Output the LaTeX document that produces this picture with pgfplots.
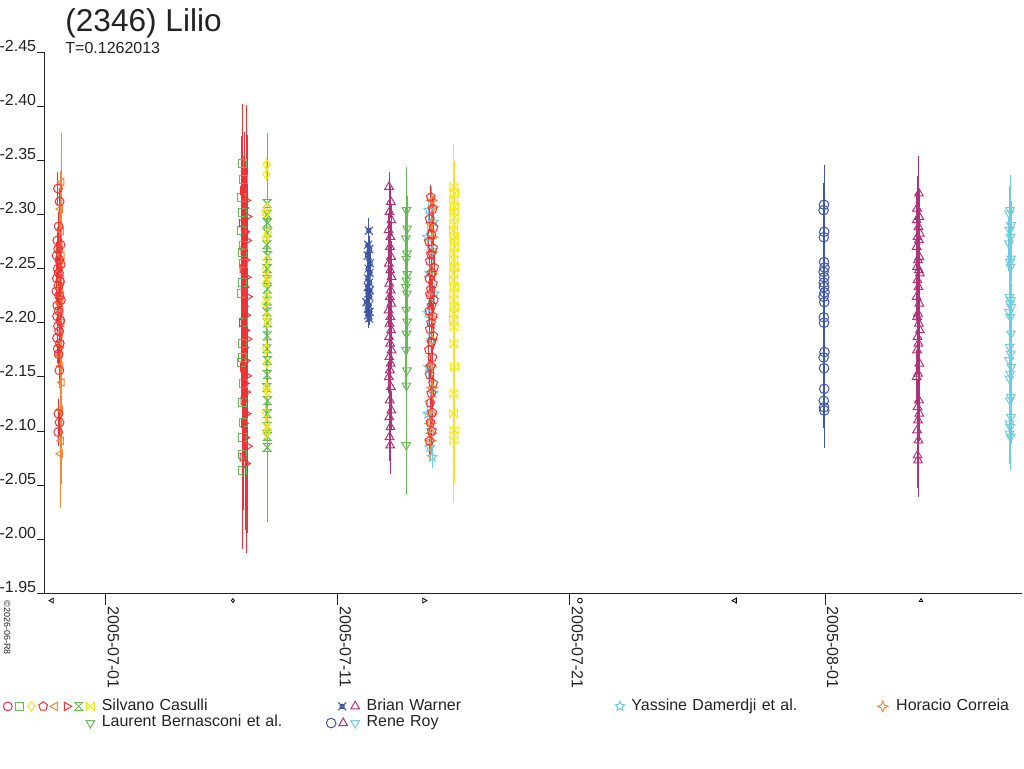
\documentclass[border=0pt]{standalone}
\usepackage{pgfplots}
\pgfplotsset{compat=1.18}
\usetikzlibrary{plotmarks}
\usepackage{fontspec}
\setmainfont{Liberation Sans}
\definecolor{cred}{RGB}{236,51,56}
\definecolor{cgreen}{RGB}{102,187,85}
\definecolor{cyellow}{RGB}{245,232,20}
\definecolor{corange}{RGB}{245,135,55}
\definecolor{cblue}{RGB}{62,86,165}
\definecolor{cmagenta}{RGB}{176,50,125}
\definecolor{ccyan}{RGB}{110,205,222}
\definecolor{cgray}{RGB}{34,34,34}
\pgfdeclareplotmark{hourglass}{%
 \pgfpathmoveto{\pgfqpoint{-\pgfplotmarksize}{\pgfplotmarksize}}%
 \pgfpathlineto{\pgfqpoint{\pgfplotmarksize}{\pgfplotmarksize}}%
 \pgfpathlineto{\pgfqpoint{-\pgfplotmarksize}{-\pgfplotmarksize}}%
 \pgfpathlineto{\pgfqpoint{\pgfplotmarksize}{-\pgfplotmarksize}}%
 \pgfpathclose\pgfusepathqstroke}
\pgfdeclareplotmark{bowtie}{%
 \pgfpathmoveto{\pgfqpoint{-\pgfplotmarksize}{\pgfplotmarksize}}%
 \pgfpathlineto{\pgfqpoint{-\pgfplotmarksize}{-\pgfplotmarksize}}%
 \pgfpathlineto{\pgfqpoint{\pgfplotmarksize}{\pgfplotmarksize}}%
 \pgfpathlineto{\pgfqpoint{\pgfplotmarksize}{-\pgfplotmarksize}}%
 \pgfpathclose\pgfusepathqstroke}
\pgfdeclareplotmark{star4}{%
 \pgfpathmoveto{\pgfqpoint{0pt}{\pgfplotmarksize}}%
 \pgfpathlineto{\pgfqpoint{0.3\pgfplotmarksize}{0.3\pgfplotmarksize}}%
 \pgfpathlineto{\pgfqpoint{\pgfplotmarksize}{0pt}}%
 \pgfpathlineto{\pgfqpoint{0.3\pgfplotmarksize}{-0.3\pgfplotmarksize}}%
 \pgfpathlineto{\pgfqpoint{0pt}{-\pgfplotmarksize}}%
 \pgfpathlineto{\pgfqpoint{-0.3\pgfplotmarksize}{-0.3\pgfplotmarksize}}%
 \pgfpathlineto{\pgfqpoint{-\pgfplotmarksize}{0pt}}%
 \pgfpathlineto{\pgfqpoint{-0.3\pgfplotmarksize}{0.3\pgfplotmarksize}}%
 \pgfpathclose\pgfusepathqstroke}
\pgfdeclareplotmark{ostar}{%
 \pgfpathmoveto{\pgfpointpolar{90}{\pgfplotmarksize}}%
 \pgfpathlineto{\pgfpointpolar{126}{0.45\pgfplotmarksize}}%
 \pgfpathlineto{\pgfpointpolar{162}{\pgfplotmarksize}}%
 \pgfpathlineto{\pgfpointpolar{198}{0.45\pgfplotmarksize}}%
 \pgfpathlineto{\pgfpointpolar{234}{\pgfplotmarksize}}%
 \pgfpathlineto{\pgfpointpolar{270}{0.45\pgfplotmarksize}}%
 \pgfpathlineto{\pgfpointpolar{306}{\pgfplotmarksize}}%
 \pgfpathlineto{\pgfpointpolar{342}{0.45\pgfplotmarksize}}%
 \pgfpathlineto{\pgfpointpolar{18}{\pgfplotmarksize}}%
 \pgfpathlineto{\pgfpointpolar{54}{0.45\pgfplotmarksize}}%
 \pgfpathclose\pgfusepathqstroke}
\pgfdeclareplotmark{quadx}{%
 \pgfpathrectangle{\pgfqpoint{-0.5\pgfplotmarksize}{-0.5\pgfplotmarksize}}{\pgfqpoint{\pgfplotmarksize}{\pgfplotmarksize}}%
 \pgfpathmoveto{\pgfqpoint{-\pgfplotmarksize}{-\pgfplotmarksize}}%
 \pgfpathlineto{\pgfqpoint{\pgfplotmarksize}{\pgfplotmarksize}}%
 \pgfpathmoveto{\pgfqpoint{-\pgfplotmarksize}{\pgfplotmarksize}}%
 \pgfpathlineto{\pgfqpoint{\pgfplotmarksize}{-\pgfplotmarksize}}%
 \pgfusepathqstroke}
\pgfplotsset{eb/.style={only marks, mark size=2.2pt, line width=0.5pt,
  error bars/y dir=both, error bars/y explicit, error bars/error mark=none,
  error bars/error bar style={line width=0.5pt}, forget plot}}
\begin{document}
\begin{tikzpicture}
\path[use as bounding box] (0,0) rectangle (512pt,384pt);
\begin{axis}[
  at={(22.5pt,87.25pt)}, anchor=south west,
  scale only axis, width=488.5pt, height=270.75pt,
  xmin=-2.629, xmax=39.483, ymin=-2.45, ymax=-1.95, y dir=reverse,
  axis x line*=bottom, axis y line*=left,
  axis line style={line width=0.5pt, draw=cgray, -},
  tick align=outside,
  xtick style={line width=0.5pt, draw=cgray, /pgfplots/major tick length=5.5pt},
  ytick style={line width=0.5pt, draw=cgray, /pgfplots/major tick length=4pt},
  xtick={0,10,20,31},
  xticklabels={2005-07-01,2005-07-11,2005-07-21,2005-08-01},
  ytick={-2.45,-2.40,-2.35,-2.30,-2.25,-2.20,-2.15,-2.10,-2.05,-2.00,-1.95},
  /pgf/number format/fixed, /pgf/number format/fixed zerofill,
  /pgf/number format/precision=2, /pgf/number format/assume math mode=true,
  ticklabel style={font=\fontsize{8}{9.6}\selectfont, text=cgray},
  yticklabel style={anchor=south east, inner sep=0pt},
  xticklabel style={xshift=1pt, yshift=-2pt, rotate=-90, anchor=base west, inner sep=0pt},
  clip=false,
  legend columns=4,
  legend cell align=left,
  legend style={at={(0.04504,-0.19298)}, anchor=north west, draw=none, fill=none,
    inner sep=0pt, outer sep=0pt, column sep=0pt, row sep=0pt,
    font=\fontsize{8}{9}\selectfont,
    nodes={text width=126pt, inner xsep=0pt, inner ysep=0pt, text height=6pt, text depth=2.35pt, align=left, text=cgray}},
]
% legend entries
\addlegendimage{legend image code/.code={
  \path (0pt,0pt) (6pt,0pt);
  \draw[overlay,cred,line width=0.5pt] plot[only marks, mark=o, mark size=2.2pt] coordinates {(-40.8pt,0pt)};
  \draw[overlay,cgreen,line width=0.5pt] plot[only marks, mark=square, mark size=2pt] coordinates {(-34.9pt,0pt)};
  \draw[overlay,cyellow,line width=0.5pt] plot[only marks, mark=diamond, mark size=2.4pt] coordinates {(-29pt,0pt)};
  \draw[overlay,cred,line width=0.5pt] plot[only marks, mark=pentagon, mark size=2.3pt] coordinates {(-23.1pt,0pt)};
  \draw[overlay,corange,line width=0.5pt] plot[only marks, mark=triangle, mark size=2.4pt, mark options={rotate=90}] coordinates {(-17.2pt,0pt)};
  \draw[overlay,cred,line width=0.5pt] plot[only marks, mark=triangle, mark size=2.4pt, mark options={rotate=-90}] coordinates {(-11.3pt,0pt)};
  \draw[overlay,cgreen,line width=0.5pt] plot[only marks, mark=hourglass, mark size=2pt] coordinates {(-5.4pt,0pt)};
  \draw[overlay,cyellow,line width=0.5pt] plot[only marks, mark=bowtie, mark size=2pt] coordinates {(0.5pt,0pt)};
}}
\addlegendentry{Silvano Casulli}
\addlegendimage{legend image code/.code={
  \path (0pt,0pt) (6pt,0pt);
  \draw[overlay,cblue,line width=0.5pt] plot[only marks, mark=quadx, mark size=2pt] coordinates {(-6pt,0pt)};
  \draw[overlay,cmagenta,line width=0.5pt] plot[only marks, mark=triangle, mark size=2.5pt] coordinates {(0.5pt,0pt)};
}}
\addlegendentry{Brian Warner}
\addlegendimage{legend image code/.code={
  \path (0pt,0pt) (6pt,0pt);
  \draw[overlay,ccyan,line width=0.5pt] plot[only marks, mark=ostar, mark size=2.5pt] coordinates {(0.5pt,0pt)};
}}
\addlegendentry{Yassine Damerdji et al.}
\addlegendimage{legend image code/.code={
  \path (0pt,0pt) (6pt,0pt);
  \draw[overlay,corange,line width=0.5pt] plot[only marks, mark=star4, mark size=2.6pt] coordinates {(-0.5pt,0pt)};
}}
\addlegendentry{Horacio Correia}
\addlegendimage{legend image code/.code={
  \path (0pt,0pt) (6pt,0pt);
  \draw[overlay,cgreen,line width=0.5pt] plot[only marks, mark=triangle, mark size=2.5pt, mark options={rotate=180}] coordinates {(0.5pt,0pt)};
}}
\addlegendentry{Laurent Bernasconi et al.}
\addlegendimage{legend image code/.code={
  \path (0pt,0pt) (6pt,0pt);
  \draw[overlay,cblue,line width=0.5pt] plot[only marks, mark=o, mark size=2.4pt] coordinates {(-11.5pt,0pt)};
  \draw[overlay,cmagenta,line width=0.5pt] plot[only marks, mark=triangle, mark size=2.5pt] coordinates {(-5.5pt,0pt)};
  \draw[overlay,ccyan,line width=0.5pt] plot[only marks, mark=triangle, mark size=2.5pt, mark options={rotate=180}] coordinates {(0.5pt,0pt)};
}}
\addlegendentry{Rene Roy}

% ---- Cluster 1: Silvano orange (triangle left)
\addplot[eb, color=corange, mark=triangle, mark options={rotate=90}] table[x=x,y=y,y error=e] {
x y e
-1.91 -2.330 0.045
-1.97 -2.305 0.035
-1.93 -2.285 0.030
-1.99 -2.270 0.030
-1.90 -2.262 0.035
-1.95 -2.255 0.028
-2.00 -2.248 0.030
-1.92 -2.240 0.032
-1.97 -2.232 0.030
-1.93 -2.225 0.035
-1.98 -2.218 0.030
-1.95 -2.210 0.033
-1.91 -2.200 0.030
-1.97 -2.190 0.032
-1.93 -2.180 0.035
-2.00 -2.170 0.030
-1.95 -2.160 0.033
-1.90 -2.145 0.040
-1.96 -2.120 0.050
-1.93 -2.091 0.040
-1.97 -2.079 0.050
};
% ---- Cluster 1: Silvano red circles
\addplot[eb, color=cred, mark=o] table[x=x,y=y,y error=e] {
x y e
-2.07 -2.324 0.015
-2.00 -2.312 0.012
-2.04 -2.289 0.013
-2.10 -2.276 0.012
-1.96 -2.272 0.014
-2.06 -2.268 0.012
-2.13 -2.262 0.013
-2.01 -2.258 0.012
-1.95 -2.254 0.015
-2.08 -2.250 0.012
-2.03 -2.246 0.013
-2.12 -2.241 0.012
-1.98 -2.238 0.014
-2.05 -2.234 0.012
-2.14 -2.229 0.013
-2.02 -2.225 0.012
-1.94 -2.221 0.013
-2.10 -2.216 0.012
-2.04 -2.211 0.014
-2.11 -2.206 0.013
-1.97 -2.202 0.012
-2.07 -2.197 0.013
-2.02 -2.192 0.012
-2.11 -2.186 0.014
-1.99 -2.181 0.012
-2.08 -2.176 0.013
-2.04 -2.171 0.012
-2.01 -2.156 0.013
-2.05 -2.116 0.014
-2.00 -2.108 0.012
-2.06 -2.099 0.013
};
% ---- Cluster 2: Silvano green squares
\addplot[eb, color=cgreen, mark=square, mark size=2pt] table[x=x,y=y,y error=e] {
x y e
5.88 -2.347 0.020
5.92 -2.332 0.022
5.86 -2.316 0.020
5.90 -2.302 0.025
5.85 -2.285 0.020
5.91 -2.271 0.022
5.87 -2.265 0.020
5.93 -2.255 0.022
5.89 -2.237 0.020
5.86 -2.227 0.024
5.92 -2.200 0.020
5.88 -2.181 0.022
5.90 -2.168 0.020
5.85 -2.163 0.022
5.91 -2.144 0.020
5.87 -2.126 0.024
5.93 -2.108 0.020
5.89 -2.094 0.022
5.90 -2.078 0.020
5.88 -2.064 0.022
};
% ---- Cluster 2: Silvano red (triangle right)
\addplot[eb, color=cred, mark=triangle, mark options={rotate=-90}] table[x=x,y=y,y error=e] {
x y e
5.90 -2.322 0.080
6.04 -2.313 0.088
5.96 -2.306 0.070
6.10 -2.298 0.075
5.84 -2.292 0.080
6.00 -2.284 0.065
6.08 -2.276 0.070
5.92 -2.267 0.075
6.02 -2.258 0.070
5.88 -2.250 0.065
6.06 -2.242 0.072
5.98 -2.233 0.068
6.12 -2.224 0.070
5.94 -2.215 0.075
6.04 -2.207 0.068
5.86 -2.200 0.070
6.00 -2.193 0.072
6.10 -2.185 0.068
5.96 -2.177 0.070
6.02 -2.165 0.075
5.90 -2.159 0.080
6.08 -2.151 0.070
5.98 -2.144 0.072
6.04 -2.136 0.075
5.92 -2.128 0.080
6.06 -2.116 0.078
5.94 -2.107 0.080
6.00 -2.094 0.085
6.12 -2.086 0.080
5.88 -2.076 0.085
6.04 -2.070 0.083
};
% ---- Cluster 2b: Silvano green hourglass
\addplot[eb, color=cgreen, mark=hourglass, mark size=2pt] table[x=x,y=y,y error=e] {
x y e
6.95 -2.310 0.065
6.94 -2.300 0.030
6.96 -2.292 0.025
6.95 -2.283 0.030
6.93 -2.272 0.025
6.96 -2.262 0.030
6.95 -2.250 0.025
6.94 -2.240 0.030
6.96 -2.231 0.025
6.95 -2.220 0.030
6.93 -2.210 0.028
6.96 -2.200 0.025
6.95 -2.188 0.030
6.94 -2.176 0.025
6.96 -2.165 0.030
6.95 -2.152 0.025
6.93 -2.140 0.030
6.96 -2.128 0.025
6.95 -2.116 0.030
6.94 -2.104 0.028
6.96 -2.095 0.060
6.95 -2.085 0.069
};
% ---- Cluster 2b: Silvano yellow diamonds
\addplot[eb, color=cyellow, mark=diamond, mark size=2.4pt] table[x=x,y=y,y error=e] {
x y e
6.93 -2.346 0.006
6.92 -2.337 0.006
6.95 -2.306 0.008
6.88 -2.301 0.006
6.97 -2.283 0.008
6.90 -2.278 0.006
6.94 -2.258 0.007
6.89 -2.249 0.006
6.98 -2.242 0.007
6.91 -2.237 0.006
6.95 -2.224 0.007
6.88 -2.218 0.006
6.93 -2.205 0.007
6.97 -2.200 0.006
6.90 -2.176 0.007
6.94 -2.163 0.006
6.92 -2.140 0.007
6.96 -2.136 0.006
6.89 -2.117 0.007
6.93 -2.107 0.006
6.97 -2.101 0.007
6.91 -2.098 0.006
};
% ---- Cluster 3: Brian Warner blue
\addplot[eb, color=cblue, mark=quadx, mark size=2pt] table[x=x,y=y,y error=e] {
x y e
11.33 -2.285 0.012
11.30 -2.272 0.010
11.35 -2.268 0.012
11.28 -2.262 0.011
11.38 -2.255 0.010
11.32 -2.250 0.012
11.36 -2.246 0.011
11.30 -2.241 0.010
11.34 -2.237 0.012
11.29 -2.233 0.011
11.37 -2.230 0.010
11.31 -2.227 0.012
11.35 -2.224 0.011
11.22 -2.219 0.012
11.33 -2.216 0.010
11.29 -2.213 0.012
11.36 -2.210 0.011
11.31 -2.207 0.012
11.34 -2.204 0.006
};
% ---- Cluster 4: Brian Warner magenta triangles
\addplot[eb, color=cmagenta, mark=triangle, mark size=2.5pt] table[x=x,y=y,y error=e] {
x y e
12.20 -2.3255 0.014
12.28 -2.3116 0.015
12.22 -2.3024 0.016
12.30 -2.2947 0.015
12.18 -2.2855 0.016
12.26 -2.2793 0.015
12.24 -2.2701 0.016
12.29 -2.2608 0.015
12.19 -2.2547 0.016
12.25 -2.2485 0.015
12.31 -2.2423 0.016
12.21 -2.2362 0.015
12.27 -2.2300 0.016
12.23 -2.2238 0.015
12.30 -2.2177 0.016
12.18 -2.2115 0.015
12.26 -2.2054 0.016
12.22 -2.1993 0.015
12.29 -2.1931 0.016
12.20 -2.1869 0.015
12.25 -2.1808 0.016
12.31 -2.1746 0.015
12.21 -2.1684 0.016
12.27 -2.1623 0.015
12.24 -2.1561 0.016
12.19 -2.1499 0.015
12.28 -2.1407 0.018
12.23 -2.1284 0.018
12.30 -2.1191 0.018
12.21 -2.1129 0.020
12.26 -2.1037 0.020
12.22 -2.0945 0.022
12.25 -2.0868 0.026
};
% ---- Cluster 5: Laurent Bernasconi green triangles down
\addplot[eb, color=cgreen, mark=triangle, mark size=2.5pt, mark options={rotate=180}] table[x=x,y=y,y error=e] {
x y e
12.95 -2.304 0.040
12.98 -2.287 0.030
12.93 -2.278 0.028
12.97 -2.264 0.030
12.94 -2.259 0.028
12.99 -2.245 0.030
12.95 -2.239 0.028
12.92 -2.233 0.030
12.97 -2.227 0.028
12.94 -2.212 0.030
12.98 -2.201 0.030
12.95 -2.190 0.032
12.93 -2.175 0.035
12.97 -2.156 0.040
12.95 -2.142 0.040
12.94 -2.087 0.045
};
% ---- Cluster 6: Yassine Damerdji cyan stars
\addplot[eb, color=ccyan, mark=ostar, mark size=2.5pt] table[x=x,y=y,y error=e] {
x y e
13.92 -2.304 0.010
14.12 -2.293 0.010
13.85 -2.279 0.012
14.08 -2.267 0.010
13.95 -2.246 0.012
14.15 -2.227 0.010
13.88 -2.209 0.012
14.05 -2.184 0.010
13.90 -2.159 0.012
14.10 -2.135 0.010
13.87 -2.116 0.012
14.02 -2.101 0.012
13.96 -2.085 0.012
14.06 -2.076 0.010
};
% ---- Cluster 6: Horacio Correia orange
\addplot[eb, color=corange, mark=star4, mark size=2.6pt] table[x=x,y=y,y error=e] {
x y e
14.05 -2.313 0.012
14.10 -2.307 0.010
14.02 -2.292 0.012
14.08 -2.279 0.010
14.04 -2.265 0.012
14.06 -2.245 0.010
14.03 -2.225 0.012
14.07 -2.205 0.012
14.05 -2.184 0.012
14.02 -2.160 0.012
14.06 -2.140 0.012
14.04 -2.116 0.012
13.98 -2.107 0.015
14.03 -2.098 0.020
14.00 -2.091 0.018
};
% ---- Cluster 6: Silvano red pentagons
\addplot[eb, color=cred, mark=pentagon, mark size=2.3pt] table[x=x,y=y,y error=e] {
x y e
14.00 -2.316 0.011
14.08 -2.305 0.012
13.95 -2.296 0.011
14.12 -2.288 0.012
14.03 -2.281 0.011
13.92 -2.275 0.012
14.10 -2.269 0.011
14.01 -2.263 0.012
13.96 -2.257 0.011
14.14 -2.251 0.012
14.05 -2.246 0.011
13.93 -2.241 0.012
14.09 -2.236 0.011
14.00 -2.231 0.012
13.97 -2.226 0.011
14.13 -2.221 0.012
14.04 -2.216 0.011
13.94 -2.211 0.012
14.08 -2.206 0.011
14.01 -2.200 0.012
13.96 -2.194 0.011
14.11 -2.188 0.012
14.03 -2.182 0.011
13.92 -2.175 0.012
14.07 -2.168 0.011
14.00 -2.160 0.012
13.95 -2.152 0.011
14.10 -2.144 0.012
14.02 -2.135 0.011
13.97 -2.126 0.012
14.06 -2.117 0.011
13.99 -2.108 0.012
14.04 -2.100 0.011
13.94 -2.091 0.012
};
% ---- Cluster 7: Silvano yellow bowties
\addplot[eb, color=cyellow, mark=bowtie, mark size=2pt] table[x=x,y=y,y error=e] {
x y e
15.00 -2.3255 0.040
15.03 -2.3194 0.030
14.98 -2.3132 0.028
15.02 -2.3070 0.030
14.99 -2.3024 0.028
15.04 -2.2978 0.030
15.00 -2.2901 0.028
14.97 -2.2855 0.030
15.02 -2.2793 0.028
14.99 -2.2763 0.030
15.03 -2.2701 0.028
15.00 -2.2640 0.030
14.98 -2.2578 0.028
15.02 -2.2516 0.030
15.00 -2.2455 0.028
14.97 -2.2393 0.030
15.03 -2.2331 0.028
15.00 -2.2270 0.030
14.99 -2.2208 0.028
15.02 -2.2146 0.030
15.00 -2.2085 0.028
14.98 -2.2023 0.030
15.01 -2.1962 0.030
14.99 -2.1808 0.035
15.02 -2.1592 0.040
15.00 -2.1346 0.045
14.98 -2.1161 0.050
15.01 -2.1007 0.050
15.00 -2.0915 0.057
};
% ---- Cluster 8: Rene Roy blue circles
\addplot[eb, color=cblue, mark=o, mark size=2.4pt] table[x=x,y=y,y error=e] {
x y e
30.95 -2.309 0.037
30.93 -2.304 0.025
30.96 -2.284 0.025
30.94 -2.279 0.022
30.95 -2.256 0.022
30.97 -2.251 0.020
30.93 -2.247 0.022
30.96 -2.242 0.020
30.94 -2.237 0.022
30.95 -2.233 0.020
30.97 -2.228 0.022
30.93 -2.224 0.020
30.96 -2.219 0.022
30.94 -2.205 0.022
30.95 -2.200 0.024
30.97 -2.173 0.025
30.93 -2.168 0.024
30.95 -2.158 0.025
30.96 -2.139 0.025
30.94 -2.128 0.025
30.95 -2.122 0.028
30.96 -2.119 0.035
};
% ---- Cluster 9: Rene Roy magenta
\addplot[eb, color=cmagenta, mark=triangle, mark size=2.5pt] table[x=x,y=y,y error=e] {
x y e
35.04 -2.3194 0.035
34.96 -2.3055 0.030
35.06 -2.2978 0.025
34.94 -2.2947 0.025
35.02 -2.2885 0.022
35.08 -2.2824 0.025
34.98 -2.2793 0.022
35.04 -2.2763 0.025
34.94 -2.2701 0.022
35.06 -2.2608 0.025
35.00 -2.2578 0.022
34.96 -2.2516 0.025
35.04 -2.2486 0.022
35.08 -2.2455 0.025
34.98 -2.2393 0.022
35.02 -2.2331 0.025
34.94 -2.2238 0.022
35.06 -2.2177 0.025
35.00 -2.2085 0.022
34.96 -2.2054 0.025
35.04 -2.1993 0.022
35.08 -2.1931 0.025
34.98 -2.1869 0.022
35.02 -2.1808 0.025
34.96 -2.1746 0.022
35.06 -2.1623 0.025
35.00 -2.1530 0.022
34.94 -2.1499 0.025
35.04 -2.1284 0.025
34.98 -2.1222 0.025
35.06 -2.1161 0.025
35.00 -2.1099 0.025
34.96 -2.1007 0.028
35.02 -2.0915 0.028
34.98 -2.0775 0.030
35.00 -2.0730 0.034
};
% ---- Cluster 10: Rene Roy cyan
\addplot[eb, color=ccyan, mark=triangle, mark size=2.5pt, mark options={rotate=180}] table[x=x,y=y,y error=e] {
x y e
38.97 -2.3040 0.032
38.93 -2.3009 0.025
39.01 -2.2901 0.022
38.95 -2.2855 0.025
38.99 -2.2793 0.022
38.92 -2.2732 0.025
39.02 -2.2593 0.022
38.96 -2.2563 0.025
38.99 -2.2516 0.022
38.94 -2.2238 0.025
39.00 -2.2208 0.022
38.97 -2.2177 0.025
39.02 -2.2146 0.022
38.93 -2.2100 0.025
38.98 -2.2054 0.022
39.01 -2.1900 0.025
38.95 -2.1777 0.022
38.99 -2.1715 0.025
38.93 -2.1654 0.022
39.02 -2.1592 0.025
38.97 -2.1530 0.022
38.94 -2.1484 0.025
39.00 -2.1315 0.022
38.96 -2.1284 0.025
39.01 -2.1130 0.025
38.95 -2.1069 0.025
38.98 -2.1038 0.025
38.94 -2.0976 0.028
38.99 -2.0945 0.030
};
% ---- small phase markers below the axis
\addplot[only marks, forget plot, black, line width=0.4pt, mark=triangle, mark size=1.4pt, mark options={rotate=90}] coordinates {(-2.33,-1.9435) (27.11,-1.9435)};
\addplot[only marks, forget plot, black, line width=0.4pt, mark=diamond, mark size=1pt] coordinates {(5.47,-1.9435)};
\addplot[only marks, forget plot, black, line width=0.4pt, mark=triangle, mark size=1.4pt, mark options={rotate=-90}] coordinates {(13.71,-1.9435)};
\addplot[only marks, forget plot, black, line width=0.4pt, mark=o, mark size=1.2pt] coordinates {(20.43,-1.9435)};
\addplot[only marks, forget plot, black, line width=0.4pt, mark=triangle, mark size=1pt] coordinates {(35.13,-1.9435)};
\end{axis}
\node[anchor=base west, inner sep=0pt, text=cgray, font=\fontsize{15.8}{19}\selectfont] at (32.5pt,368pt) {(2346) Lilio};
\node[anchor=base west, inner sep=0pt, text=cgray, font=\fontsize{8}{9.6}\selectfont] at (32.5pt,357pt) {T=0.1262013};
\node[rotate=-90, anchor=base west, inner sep=0pt, text=cgray, font=\fontsize{4.5}{5}\selectfont] at (2pt,84pt) {\textcopyright2026-06-R8};
\end{tikzpicture}
\end{document}
